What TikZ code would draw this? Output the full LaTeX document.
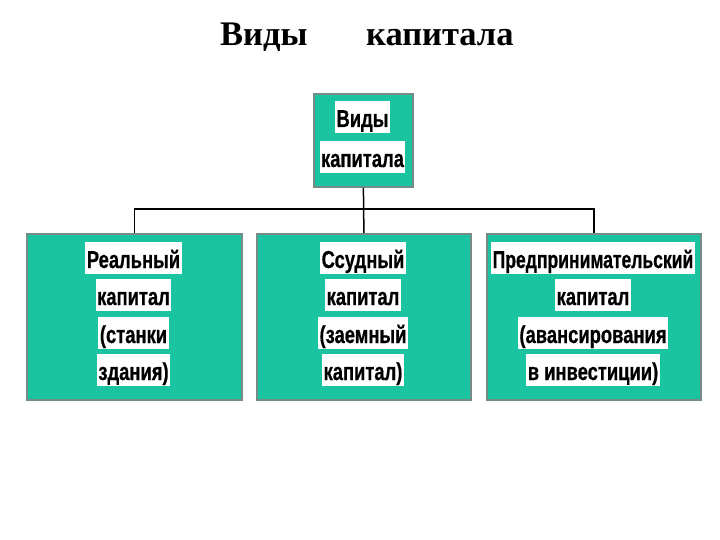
\documentclass[tikz,border=0pt]{standalone}
\usepackage{fontspec}
\setmainfont{Liberation Serif}
\newfontfamily\narrowsans[FakeStretch=0.75,BoldFeatures={FakeBold=0.6}]{Liberation Sans}
\definecolor{tealfill}{RGB}{26,196,160}
\definecolor{edgegrey}{RGB}{118,138,134}
\begin{document}
\begin{tikzpicture}[x=1pt,y=-1pt,
  box/.style={draw=edgegrey, line width=1.8pt, fill=tealfill, anchor=north west, inner sep=0pt},
  lbl/.style={fill=white, anchor=base, inner xsep=1.5pt, inner ysep=0pt,
    text height=26pt, text depth=6pt, font=\narrowsans\bfseries\fontsize{24.5}{24.5}\selectfont},
  conn/.style={draw=black, line width=1.5pt},
  title/.style={anchor=base west, inner sep=0pt, font=\bfseries\fontsize{34.5}{34.5}\selectfont}]
\useasboundingbox (0,0) rectangle (720,540);
\fill[white] (0,0) rectangle (720,540);
% title
\node[title] (t1) at (220,46) {Виды};
\node[title] (t2) at (366,46) {капитала};
% boxes
\node[box, minimum width=99pt, minimum height=93pt] (T) at (313,93) {};
\node[box, minimum width=215pt, minimum height=166pt] (L) at (26,233) {};
\node[box, minimum width=214pt, minimum height=166pt] (M) at (256,233) {};
\node[box, minimum width=214pt, minimum height=166pt] (R) at (486,233) {};
% connectors
\draw[conn] (T.south) -- (M.north);
\draw[conn] (L.north) -- ++(0,-24) -| (R.north);
% texts
\node[lbl] (T1) at (362.5,127) {Виды};
\node[lbl] (T2) at (362.5,167) {капитала};
\node[lbl] (L1) at (133.5,268) {Реальный};
\node[lbl] (L2) at (133.5,305) {капитал};
\node[lbl] (L3) at (133.5,343) {(станки};
\node[lbl] (L4) at (133.5,380) {здания)};
\node[lbl] (M1) at (363,268) {Ссудный};
\node[lbl] (M2) at (363,305) {капитал};
\node[lbl] (M3) at (363,343) {(заемный};
\node[lbl] (M4) at (363,380) {капитал)};
\node[lbl] (R1) at (593,268) {\scalebox{0.955}[1]{Предпринимательский}};
\node[lbl] (R2) at (593,305) {капитал};
\node[lbl] (R3) at (593,343) {(авансирования};
\node[lbl] (R4) at (593,380) {в инвестиции)};
\end{tikzpicture}
\end{document}
